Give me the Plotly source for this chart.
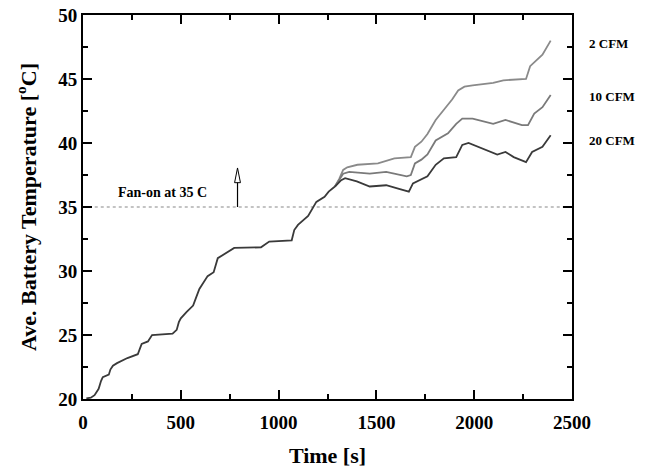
import plotly.graph_objects as go

# Common heating curve (before fan-on divergence)
t_common = [17, 40, 59, 70, 80, 92, 101, 132, 140, 153, 174, 227, 280, 290, 300, 332, 353, 458,
            479, 490, 500, 530, 563, 580, 595, 637, 668, 689, 741, 773, 910, 952, 1067, 1080,
            1099, 1151, 1193, 1235, 1256, 1288]
T_common = [20.05, 20.1, 20.3, 20.6, 20.8, 21.4, 21.7, 21.9, 22.3, 22.6, 22.8, 23.2, 23.5, 23.9,
            24.3, 24.5, 25.0, 25.1, 25.4, 26.0, 26.3, 26.8, 27.3, 28.0, 28.6, 29.6, 29.9, 31.0,
            31.5, 31.8, 31.85, 32.3, 32.4, 33.2, 33.6, 34.3, 35.4, 35.8, 36.2, 36.6]

t_2cfm = [1288, 1310, 1330, 1351, 1403, 1508, 1592, 1676, 1697, 1730, 1761, 1803, 1845, 1887,
          1918, 1950, 1992, 2097, 2149, 2265, 2286, 2320, 2349, 2391]
T_2cfm = [36.6, 37.2, 37.9, 38.1, 38.3, 38.4, 38.8, 38.9, 39.7, 40.1, 40.7, 41.8, 42.6, 43.4,
          44.1, 44.4, 44.5, 44.7, 44.9, 45.0, 46.0, 46.5, 46.9, 48.0]

t_10cfm = [1288, 1310, 1330, 1361, 1466, 1550, 1655, 1676, 1697, 1730, 1761, 1803, 1866, 1908,
           1939, 1992, 2097, 2160, 2244, 2275, 2307, 2349, 2391]
T_10cfm = [36.6, 37.1, 37.6, 37.75, 37.6, 37.75, 37.4, 37.5, 38.4, 38.7, 39.1, 40.2, 40.75, 41.5,
           41.9, 41.9, 41.5, 41.8, 41.4, 41.4, 42.3, 42.8, 43.75]

t_20cfm = [1288, 1320, 1340, 1400, 1466, 1550, 1620, 1666, 1687, 1761, 1803, 1845, 1908, 1939,
           1971, 2055, 2118, 2160, 2202, 2265, 2296, 2349, 2391]
T_20cfm = [36.6, 37.1, 37.25, 37.0, 36.6, 36.7, 36.4, 36.2, 36.85, 37.4, 38.3, 38.8, 38.9, 39.85,
           40.0, 39.45, 39.1, 39.3, 38.9, 38.5, 39.3, 39.7, 40.6]

series_labels = ["2 CFM", "10 CFM", "20 CFM"]
label_y = [47.8, 43.6, 40.2]

fan_on_temp = 35
fan_line_x = [60, 2500]
arrow_x = 790
arrow_top = 38.05
arrow_head_base = 36.9
arrow_half_w = 15

font_family = "Liberation Serif, Times New Roman, serif"

fig = go.Figure()

fig.add_trace(go.Scatter(x=fan_line_x, y=[fan_on_temp, fan_on_temp], mode="lines",
                         line=dict(color="#888888", width=1.2, dash="dot"),
                         showlegend=False, hoverinfo="skip"))

fig.add_trace(go.Scatter(x=t_2cfm, y=T_2cfm, mode="lines", line=dict(color="#8a8a8a", width=1.8),
                         showlegend=False))
fig.add_trace(go.Scatter(x=t_10cfm, y=T_10cfm, mode="lines", line=dict(color="#7a7a7a", width=1.8),
                         showlegend=False))
fig.add_trace(go.Scatter(x=t_20cfm, y=T_20cfm, mode="lines", line=dict(color="#3a3a3a", width=1.8),
                         showlegend=False))
fig.add_trace(go.Scatter(x=t_common, y=T_common, mode="lines", line=dict(color="#3a3a3a", width=1.8),
                         showlegend=False))

# Arrow: shaft + open head
fig.add_trace(go.Scatter(x=[arrow_x, arrow_x], y=[fan_on_temp, arrow_head_base], mode="lines",
                         line=dict(color="black", width=1.2), showlegend=False, hoverinfo="skip"))
fig.add_trace(go.Scatter(x=[arrow_x - arrow_half_w, arrow_x, arrow_x + arrow_half_w, arrow_x - arrow_half_w],
                         y=[arrow_head_base, arrow_top, arrow_head_base, arrow_head_base], mode="lines",
                         line=dict(color="black", width=1), showlegend=False, hoverinfo="skip"))

fig.add_annotation(x=405, y=36.15, text="<b>Fan-on at 35 C</b>", showarrow=False, xref="x", yref="y",
                   font=dict(family=font_family, size=14, color="black"))

for lab, yy in zip(series_labels, label_y):
    fig.add_annotation(x=1.03, y=yy, xref="paper", yref="y", text="<b>" + lab + "</b>", showarrow=False,
                       xanchor="left", font=dict(family=font_family, size=13, color="black"))

axis_common = dict(showline=True, linecolor="black", linewidth=2, mirror="ticks",
                   ticks="inside", ticklen=9, tickwidth=1.5, tickcolor="black",
                   showgrid=False, zeroline=False, ticklabeloverflow="allow", automargin=False,
                   tickfont=dict(family=font_family, size=19, color="black", weight="bold"))

fig.update_xaxes(range=[0, 2500], dtick=500, tick0=0, ticklabelstandoff=5,
                 minor=dict(dtick=250, ticklen=5, ticks="inside", tickcolor="black", tickwidth=1.5),
                 title=dict(text="<b>Time [s]</b>", standoff=18,
                            font=dict(family=font_family, size=22, color="black")),
                 **axis_common)
fig.update_yaxes(range=[20, 50], dtick=5, tick0=20,
                 minor=dict(dtick=2.5, ticklen=5, ticks="inside", tickcolor="black", tickwidth=1.5),
                 title=dict(text="<b>Ave. Battery Temperature [<sup>o</sup>C]</b>", standoff=16,
                            font=dict(family=font_family, size=22, color="black")),
                 **axis_common)

fig.update_layout(width=645, height=468, margin=dict(l=83, r=73, t=15, b=69),
                  plot_bgcolor="white", paper_bgcolor="white",
                  font=dict(family=font_family, color="black"))

# remove the default 8px page margin so the figure fills the window exactly
fig.write_html("out.html", config={"displayModeBar": False},
               post_script="document.body.style.margin='0';document.body.style.overflow='hidden';")
